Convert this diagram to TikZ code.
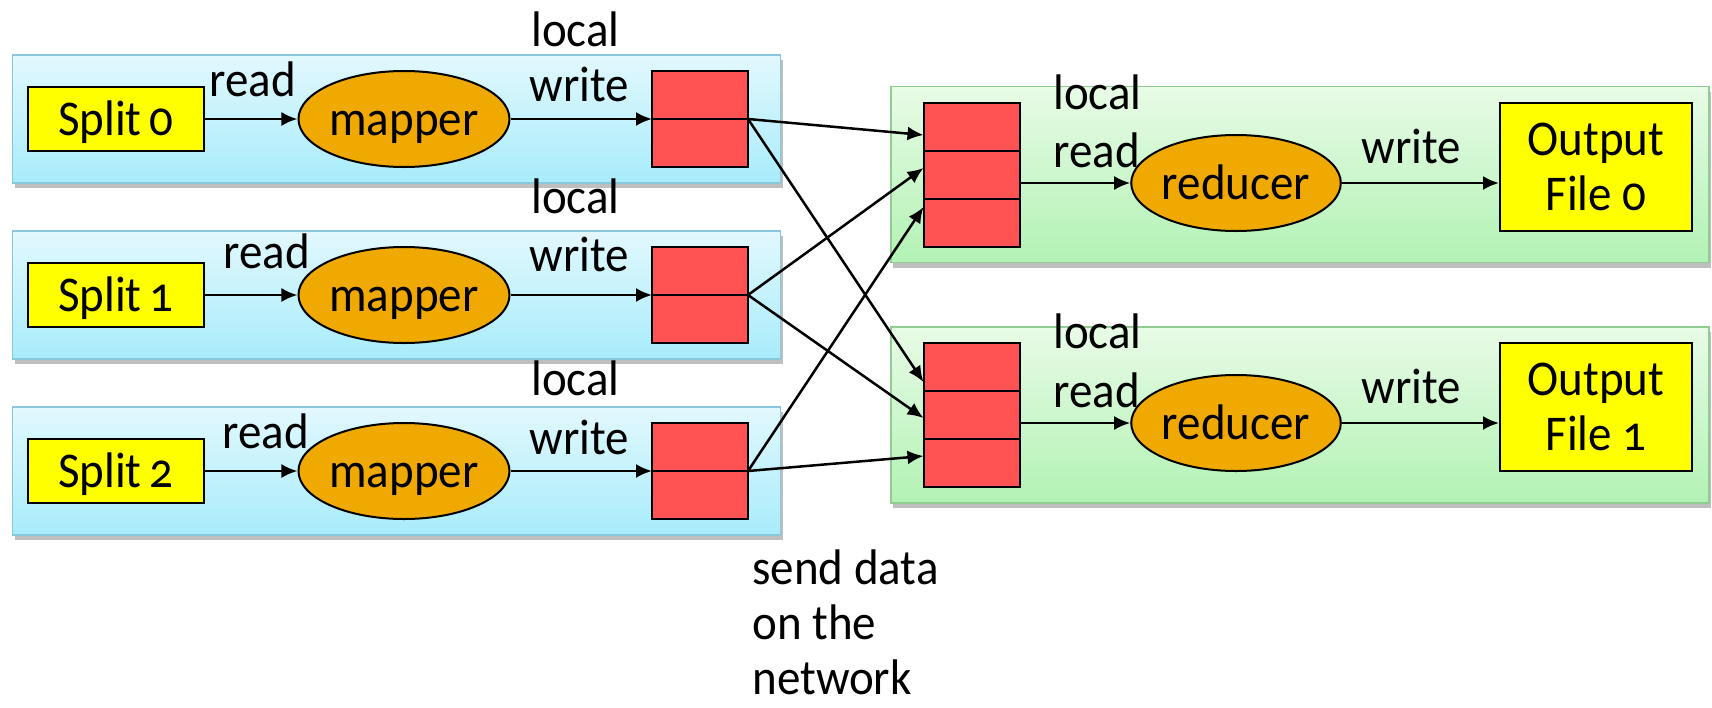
\documentclass[tikz,border=0pt]{standalone}
\usepackage{fontspec}
\setmainfont{Carlito}[Numbers=OldStyle, FakeStretch=0.94]
\usetikzlibrary{arrows.meta,shadows,positioning,shapes.geometric}

\definecolor{hosttop}{HTML}{E2F8FD}
\definecolor{hostbot}{HTML}{A8ECFB}
\definecolor{hostline}{HTML}{88C8DA}
\definecolor{racktop}{HTML}{E8FBE6}
\definecolor{rackbot}{HTML}{B2F2B4}
\definecolor{rackline}{HTML}{92CC92}
\definecolor{splitfill}{HTML}{FFFF00}
\definecolor{taskfill}{HTML}{F0A900}
\definecolor{bufred}{HTML}{FF5252}

\begin{document}
\begin{tikzpicture}[x=0.5pt, y=-0.5pt,
    font=\fontsize{25}{27.5}\selectfont,
    machine/.style={line width=0.6pt, minimum width=384pt, minimum height=64pt,
      drop shadow={shadow xshift=1pt, shadow yshift=-2.5pt, opacity=0.25, fill=black}},
    host/.style={machine, draw=hostline, top color=hosttop, bottom color=hostbot},
    rack/.style={machine, draw=rackline, top color=racktop, bottom color=rackbot,
      minimum width=409pt, minimum height=88pt},
    filebox/.style={draw, line width=1pt, fill=splitfill, inner sep=0pt},
    inbox/.style={filebox, minimum width=88pt, minimum height=32pt,
      text height=17pt, text depth=1pt},
    outbox/.style={filebox, minimum width=96pt, minimum height=64pt, align=center},
    task/.style={draw, ellipse, line width=1pt, fill=taskfill, inner sep=0pt,
      minimum width=104pt, minimum height=48pt, text height=17pt, text depth=1pt},
    cell/.style={draw, line width=1pt, fill=bufred, inner sep=0pt, outer sep=0pt,
      minimum width=48pt, minimum height=24pt},
    lbl/.style={inner sep=0pt, anchor=base west},
    flow/.style={line width=1.25pt, -{Latex[length=8pt, width=7pt]}}]
  \useasboundingbox (0,0) rectangle (1712,707);

  % machines
  \node[host] (host0) at (396.5,119) {};
  \node[host] (host1) at (396.5,295) {};
  \node[host] (host2) at (396.5,471) {};
  \node[rack] (rack0) at (1300,174.5) {};
  \node[rack] (rack1) at (1300,415) {};

  % map side
  \node[inbox] (split0) at (116,119) {Split\,0};
  \node[inbox] (split1) at (116,295) {Split\,1};
  \node[inbox] (split2) at (116,471) {Split\,2};
  \node[task] (map0) at (404,119) {mapper};
  \node[task] (map1) at (404,295) {mapper};
  \node[task] (map2) at (404,471) {mapper};
  \node[cell] (buf0a) at (700,95) {};
  \node[cell, below=0pt of buf0a] (buf0b) {};
  \node[cell] (buf1a) at (700,271) {};
  \node[cell, below=0pt of buf1a] (buf1b) {};
  \node[cell] (buf2a) at (700,447) {};
  \node[cell, below=0pt of buf2a] (buf2b) {};

  % reduce side
  \node[cell] (in0a) at (971.5,127) {};
  \node[cell, below=0pt of in0a] (in0b) {};
  \node[cell, below=0pt of in0b] (in0c) {};
  \node[cell] (in1a) at (971.5,367) {};
  \node[cell, below=0pt of in1a] (in1b) {};
  \node[cell, below=0pt of in1b] (in1c) {};
  \node[task] (red0) at (1236,183) {reducer};
  \node[task] (red1) at (1236,423) {reducer};
  \node[outbox] (out0) at (1596,167) {Output\\File 0};
  \node[outbox] (out1) at (1596,407) {Output\\File 1};

  % labels
  \node[lbl] (rd0) at (209,96) {read};
  \node[lbl] (rd1) at (223,268) {read};
  \node[lbl] (rd2) at (222,448) {read};
  \node[lbl] (loc0) at (531,46) {local};
  \node[lbl] (loc1) at (531,213) {local};
  \node[lbl] (loc2) at (531,395) {local};
  \node[lbl] (wr0) at (529,101) {write};
  \node[lbl] (wr1) at (529,271) {write};
  \node[lbl] (wr2) at (529,454) {write};
  \node[lbl] (rloc0) at (1053,109) {local};
  \node[lbl] (rrd0) at (1053,167) {read};
  \node[lbl] (rwr0) at (1361,163) {write};
  \node[lbl] (rloc1) at (1053,348) {local};
  \node[lbl] (rrd1) at (1053,407) {read};
  \node[lbl] (rwr1) at (1361,403) {write};
  \node[inner sep=0pt, anchor=north west, align=left] (net) at (752,549) {send data\\on the\\network};

  % map flow
  \draw[flow] (split0) -- (map0);
  \draw[flow] (split1) -- (map1);
  \draw[flow] (split2) -- (map2);
  \draw[flow] (map0) -- (buf0a.south west);
  \draw[flow] (map1) -- (buf1a.south west);
  \draw[flow] (map2) -- (buf2a.south west);

  % shuffle
  \draw[flow] (buf0a.south east) -- ([yshift=-4pt]in0a.west);
  \draw[flow] (buf0a.south east) -- ([yshift=-7.5pt]in1a.west);
  \draw[flow] (buf1a.south east) -- ([yshift=3.5pt]in0b.west);
  \draw[flow] (buf1a.south east) -- ([yshift=-1.5pt]in1b.west);
  \draw[flow] (buf2a.south east) -- ([yshift=8pt]in0c.west);
  \draw[flow] (buf2a.south east) -- ([yshift=3.5pt]in1c.west);

  % reduce flow
  \draw[flow] (red0.west -| in0b.east) -- (red0);
  \draw[flow] (red1.west -| in1b.east) -- (red1);
  \draw[flow] (red0) -- (red0.east -| out0.west);
  \draw[flow] (red1) -- (red1.east -| out1.west);
\end{tikzpicture}
\end{document}
